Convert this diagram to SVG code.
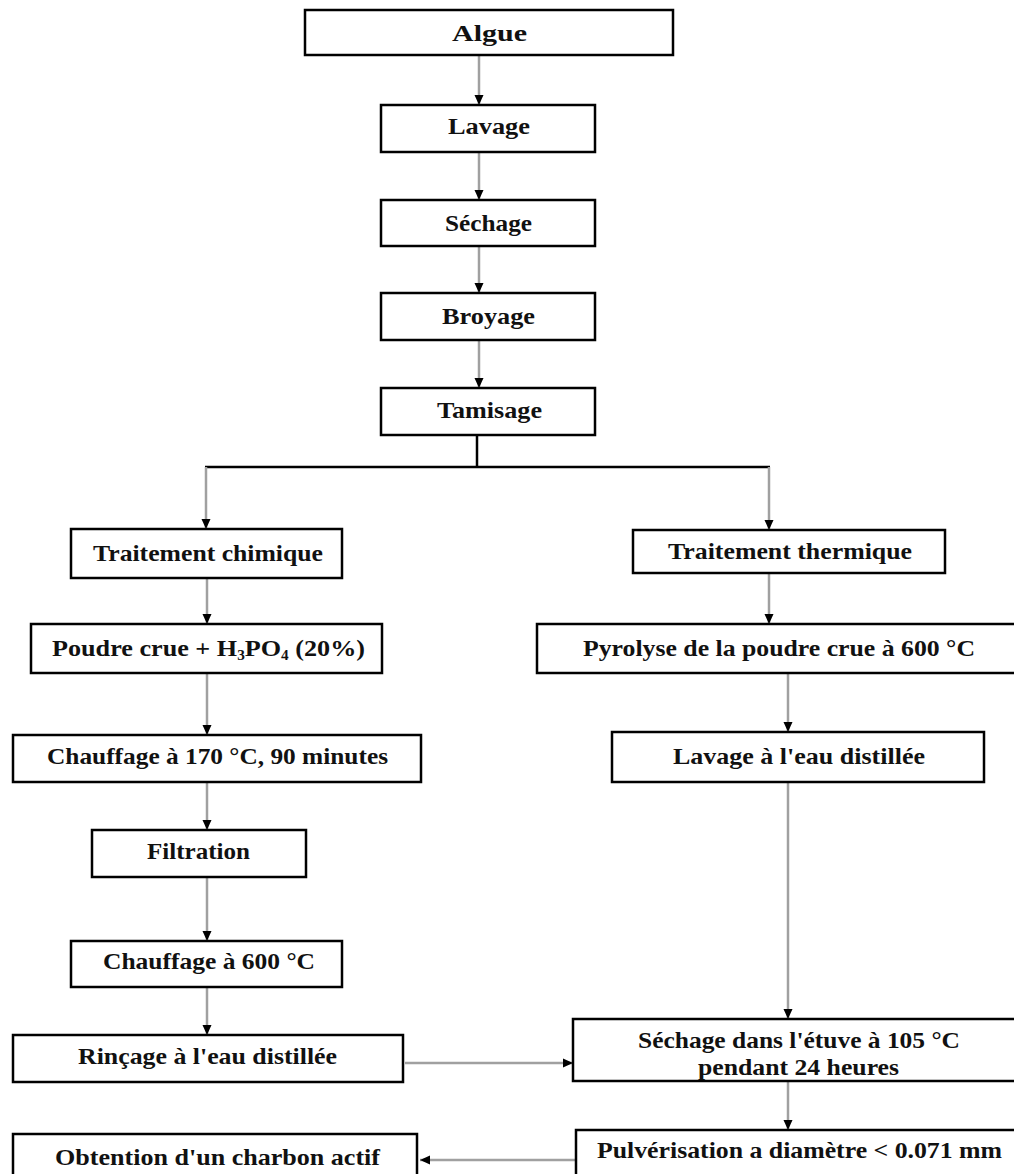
<svg xmlns="http://www.w3.org/2000/svg" width="1014" height="1174" viewBox="0 0 1014 1174">
<defs>
<marker id="arr" markerUnits="userSpaceOnUse" markerWidth="10" markerHeight="10" viewBox="0 0 10 10" refX="10" refY="5" orient="auto">
<path d="M0,0.5 L10,5 L0,9.5 Z" fill="#000"/>
</marker>
<style>
.box{fill:#fff;stroke:#000;stroke-width:2.5}
.t{font-family:"Liberation Serif","Times New Roman",serif;font-weight:bold;font-size:24px;fill:#111}
.ca{fill:none;stroke:#a0a0a0;stroke-width:2.5;marker-end:url(#arr)}
.k{fill:none;stroke:#000;stroke-width:2.5}
</style>
</defs>
<rect width="1014" height="1174" fill="#fff"/>
<g id="connectors">
<line class="ca" x1="479" y1="55" x2="479" y2="105"/>
<line class="ca" x1="479" y1="152" x2="479" y2="200"/>
<line class="ca" x1="479" y1="246" x2="479" y2="293"/>
<line class="ca" x1="479" y1="340" x2="479" y2="388"/>
<line class="k" x1="477" y1="435" x2="477" y2="467"/>
<line class="k" x1="205" y1="467" x2="770" y2="467"/>
<line class="ca" x1="206" y1="467" x2="206" y2="529"/>
<line class="ca" x1="769" y1="467" x2="769" y2="530"/>
<line class="ca" x1="207" y1="578" x2="207" y2="624"/>
<line class="ca" x1="207" y1="673" x2="207" y2="735"/>
<line class="ca" x1="207" y1="782" x2="207" y2="830"/>
<line class="ca" x1="207" y1="877" x2="207" y2="941"/>
<line class="ca" x1="207" y1="987" x2="207" y2="1035"/>
<line class="ca" x1="769" y1="573" x2="769" y2="624"/>
<line class="ca" x1="788" y1="673" x2="788" y2="732"/>
<line class="ca" x1="788" y1="782" x2="788" y2="1019"/>
<line class="ca" x1="405" y1="1063" x2="573" y2="1063"/>
<line class="ca" x1="788" y1="1081" x2="788" y2="1130"/>
<line class="ca" x1="576" y1="1160" x2="420" y2="1160"/>
</g>
<g id="algue"><rect class="box" x="305" y="10" width="368" height="45"/><text class="t" x="452" y="41" textLength="75" lengthAdjust="spacingAndGlyphs">Algue</text></g>
<g id="lavage"><rect class="box" x="381" y="105" width="214" height="47"/><text class="t" x="448" y="134" textLength="82" lengthAdjust="spacingAndGlyphs">Lavage</text></g>
<g id="sechage"><rect class="box" x="381" y="200" width="214" height="46"/><text class="t" x="445" y="231" textLength="87" lengthAdjust="spacingAndGlyphs">Séchage</text></g>
<g id="broyage"><rect class="box" x="381" y="293" width="214" height="47"/><text class="t" x="442" y="324" textLength="93" lengthAdjust="spacingAndGlyphs">Broyage</text></g>
<g id="tamisage"><rect class="box" x="381" y="388" width="214" height="47"/><text class="t" x="437" y="418" textLength="105" lengthAdjust="spacingAndGlyphs">Tamisage</text></g>
<g id="traitement-chimique"><rect class="box" x="71" y="529" width="271" height="49"/><text class="t" x="93" y="561" textLength="230" lengthAdjust="spacingAndGlyphs">Traitement chimique</text></g>
<g id="poudre-crue"><rect class="box" x="31" y="624" width="351" height="49"/><text class="t" x="52" y="656" textLength="313" lengthAdjust="spacingAndGlyphs">Poudre crue + H<tspan font-size="14" dy="4">3</tspan><tspan dy="-4">PO</tspan><tspan font-size="14" dy="4">4</tspan><tspan dy="-4"> (20%)</tspan></text></g>
<g id="chauffage-170"><rect class="box" x="13" y="735" width="408" height="47"/><text class="t" x="47" y="764" textLength="341" lengthAdjust="spacingAndGlyphs">Chauffage à 170 °C, 90 minutes</text></g>
<g id="filtration"><rect class="box" x="92" y="830" width="214" height="47"/><text class="t" x="147" y="859" textLength="103" lengthAdjust="spacingAndGlyphs">Filtration</text></g>
<g id="chauffage-600"><rect class="box" x="71" y="941" width="271" height="46"/><text class="t" x="103" y="969" textLength="212" lengthAdjust="spacingAndGlyphs">Chauffage à 600 °C</text></g>
<g id="rincage"><rect class="box" x="13" y="1035" width="390" height="47"/><text class="t" x="78" y="1064" textLength="259" lengthAdjust="spacingAndGlyphs">Rinçage à l'eau distillée</text></g>
<g id="obtention"><rect class="box" x="13" y="1134" width="404" height="50"/><text class="t" x="55" y="1165" textLength="325" lengthAdjust="spacingAndGlyphs">Obtention d'un charbon actif</text></g>
<g id="traitement-thermique"><rect class="box" x="633" y="530" width="312" height="43"/><text class="t" x="668" y="559" textLength="244" lengthAdjust="spacingAndGlyphs">Traitement thermique</text></g>
<g id="pyrolyse"><rect class="box" x="537" y="624" width="480" height="49"/><text class="t" x="583" y="656" textLength="392" lengthAdjust="spacingAndGlyphs">Pyrolyse de la poudre crue à 600 °C</text></g>
<g id="lavage-eau"><rect class="box" x="612" y="732" width="372" height="50"/><text class="t" x="673" y="764" textLength="252" lengthAdjust="spacingAndGlyphs">Lavage à l'eau distillée</text></g>
<g id="sechage-etuve"><rect class="box" x="573" y="1019" width="444" height="62"/><text class="t" x="638" y="1048" textLength="322" lengthAdjust="spacingAndGlyphs">Séchage dans l'étuve à 105 °C</text><text class="t" x="698" y="1075" textLength="201" lengthAdjust="spacingAndGlyphs">pendant 24 heures</text></g>
<g id="pulverisation"><rect class="box" x="576" y="1130" width="441" height="54"/><text class="t" x="597" y="1158" textLength="405" lengthAdjust="spacingAndGlyphs">Pulvérisation a diamètre &lt; 0.071 mm</text></g>
</svg>
